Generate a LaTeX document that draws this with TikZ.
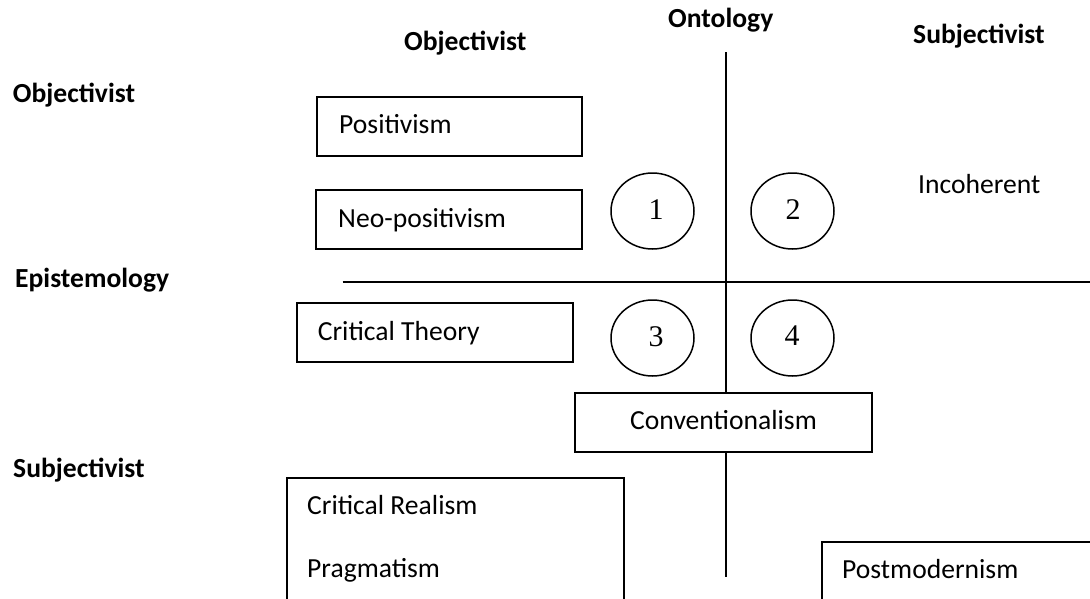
\documentclass[tikz,border=0pt]{standalone}
\usepackage{fontspec}
\setmainfont{Carlito}
\newfontfamily\digitfont{Liberation Serif}
\usetikzlibrary{shapes.geometric}
\begin{document}
\begin{tikzpicture}[x=1pt,y=-1pt,
  lbl/.style={anchor=base west,inner sep=0pt,font=\fontsize{27.6}{33}\selectfont},
  hdr/.style={lbl,font=\fontsize{27.6}{33}\selectfont\bfseries},
  boxshape/.style={draw,line width=1.8pt,fill=white,rectangle,inner sep=0pt},
  oval/.style={draw,line width=1.5pt,ellipse,inner sep=0pt,minimum width=83,minimum height=76},
  dig/.style={anchor=base,inner sep=0pt,font=\digitfont\fontsize{30}{34}\selectfont},
  axis/.style={line width=1.8pt}]
\useasboundingbox (0,0) rectangle (1090,598);
\clip (0,0) rectangle (1090,598);
\fill[white] (0,0) rectangle (1090,598);
% axes
\coordinate (vtop) at (725.7,52);
\coordinate (vbot) at (725.7,577);
\coordinate (hleft) at (342.7,282.3);
\coordinate (hright) at (1092,282.3);
\draw[axis] (vtop) -- (vbot);
\draw[axis] (hleft) -- (hright);
% headers
\node[hdr] (ont) at (668,27) {Ontology};
\node[hdr] (objTop) at (404,50) {Objectivist};
\node[hdr] (subTop) at (913,43) {Subjectivist};
\node[hdr] (objLeft) at (12.7,102) {Objectivist};
\node[hdr] (epi) at (15,287) {Epistemology};
\node[hdr] (subLeft) at (13,477) {Subjectivist};
% boxes
\node[boxshape,minimum width=265,minimum height=59] (bpos) at (449.5,126.5) {};
\node[boxshape,minimum width=266,minimum height=59] (bneo) at (449,219.5) {};
\node[boxshape,minimum width=276,minimum height=59] (bct) at (435,332.5) {};
\node[boxshape,minimum width=297,minimum height=59] (bconv) at (723.5,422.5) {};
\node[boxshape,minimum width=337,minimum height=162] (bcr) at (455.5,559) {};
\node[boxshape,minimum width=288,minimum height=78] (bpm) at (966,581) {};
% box texts
\node[lbl] (tpos) at (339,133) {Positivism};
\node[lbl] (tneo) at (338,227) {Neo-positivism};
\node[lbl] (tct) at (317.7,340) {Critical Theory};
\node[lbl] (tconv) at (630,429) {Conventionalism};
\node[lbl] (tcr) at (307,514) {Critical Realism};
\node[lbl] (tprag) at (307,577) {Pragmatism};
\node[lbl] (tpm) at (842,578) {Postmodernism};
\node[lbl] (tinc) at (918,193) {Incoherent};
% circles
\node[oval] (c1) at (652.5,211) {};
\node[oval] (c2) at (792.5,211) {};
\node[oval] (c3) at (652.5,338) {};
\node[oval] (c4) at (792.5,338) {};
\node[dig] (d1) at (656,219) {1};
\node[dig] (d2) at (793,219) {2};
\node[dig] (d3) at (656,346) {3};
\node[dig] (d4) at (792,345.5) {4};
\end{tikzpicture}
\end{document}
